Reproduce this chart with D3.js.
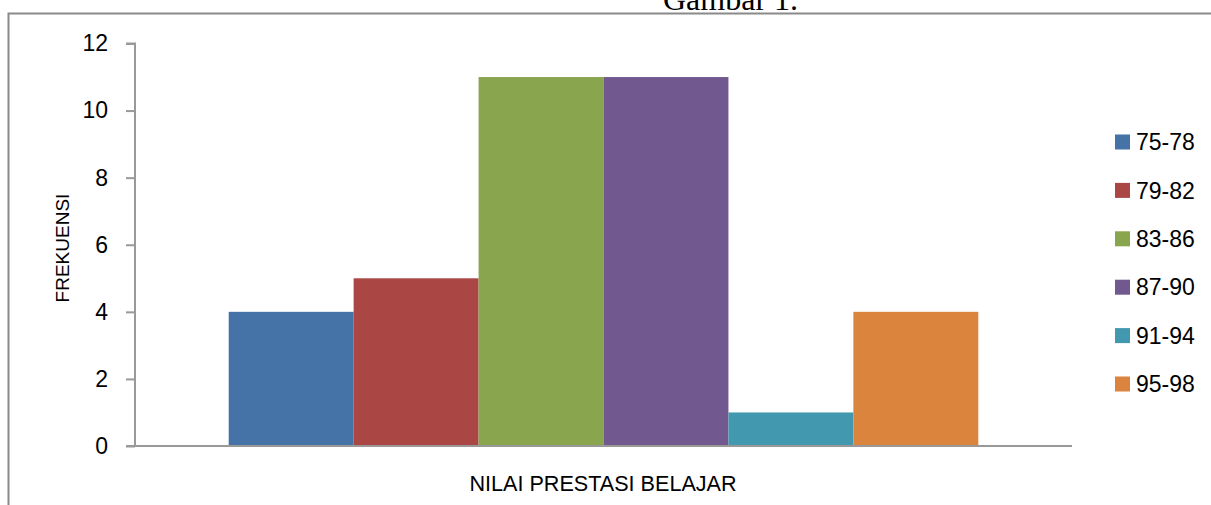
<!DOCTYPE html>
<html>
<head>
<meta charset="utf-8">
<script src="https://cdn.jsdelivr.net/npm/d3@7/dist/d3.min.js"></script>
<style>
  html, body { margin: 0; padding: 0; background: #fff; overflow: hidden; }
  svg { display: block; }
</style>
</head>
<body>
<svg id="chart" width="1211" height="505"></svg>
<script>
const categories = ["75-78", "79-82", "83-86", "87-90", "91-94", "95-98"];
const values = [4, 5, 11, 11, 1, 4];
const colors = ["#4572A7", "#AA4643", "#89A54E", "#71588F", "#4198AF", "#DB843D"];
const yTicks = [0, 2, 4, 6, 8, 10, 12];
const yTitle = "FREKUENSI";
const xTitle = "NILAI PRESTASI BELAJAR";
const caption = "Gambar 1.";

const svg = d3.select("#chart");
const font = "'Liberation Sans', Arial, sans-serif";

// outer frame (right and bottom edges lie outside the picture)
svg.append("path")
  .attr("d", "M8.5,520V13.5H1230")
  .attr("fill", "none").attr("stroke", "#8a8a8a").attr("stroke-width", 2);

// caption (clipped at top)
svg.append("text")
  .attr("x", 663).attr("y", 10)
  .attr("font-family", "'Liberation Serif', 'Times New Roman', serif")
  .attr("font-size", 32).attr("fill", "#000")
  .text(caption);

const x = d3.scaleBand().domain(categories).range([135, 1072])
  .paddingInner(0).paddingOuter(0.75);
const y = d3.scaleLinear().domain([0, 12]).range([446, 43.5]);

// bars
svg.append("g").selectAll("rect").data(categories).join("rect")
  .attr("x", d => x(d))
  .attr("y", (d, i) => y(values[i]))
  .attr("width", x.bandwidth())
  .attr("height", (d, i) => y(0) - y(values[i]))
  .attr("fill", (d, i) => colors[i]);

// y axis
const yAxis = d3.axisLeft(y).tickValues(yTicks).tickSize(9).tickPadding(18).tickFormat(d3.format("d"));
const gy = svg.append("g").attr("transform", "translate(135,0)").call(yAxis);
gy.select(".domain").attr("stroke", "#999").attr("stroke-width", 2).attr("d", `M-9,${y(12)}H0V${y(0)}`);
gy.selectAll(".tick line").attr("stroke", "#999").attr("stroke-width", 2);
gy.selectAll(".tick text").attr("font-family", font).attr("font-size", 23).attr("fill", "#000");

// x baseline
svg.append("line")
  .attr("x1", 126).attr("x2", 1072)
  .attr("y1", y(0)).attr("y2", y(0))
  .attr("stroke", "#999").attr("stroke-width", 2);

// axis titles
svg.append("text")
  .attr("transform", "translate(69,248) rotate(-90)")
  .attr("text-anchor", "middle")
  .attr("font-family", font).attr("font-size", 19).attr("fill", "#000")
  .text(yTitle);

svg.append("text")
  .attr("x", 603).attr("y", 491)
  .attr("text-anchor", "middle")
  .attr("font-family", font).attr("font-size", 21.6).attr("fill", "#000")
  .text(xTitle);

// legend
const leg = svg.append("g").selectAll("g").data(categories).join("g")
  .attr("transform", (d, i) => `translate(1115,${142 + i * 48.4})`);
leg.append("rect").attr("x", 0).attr("y", -7.5).attr("width", 15).attr("height", 15)
  .attr("fill", (d, i) => colors[i]);
leg.append("text").attr("x", 21).attr("y", 0).attr("dy", "0.36em")
  .attr("font-family", font).attr("font-size", 23).attr("fill", "#000")
  .text(d => d);
</script>
</body>
</html>
